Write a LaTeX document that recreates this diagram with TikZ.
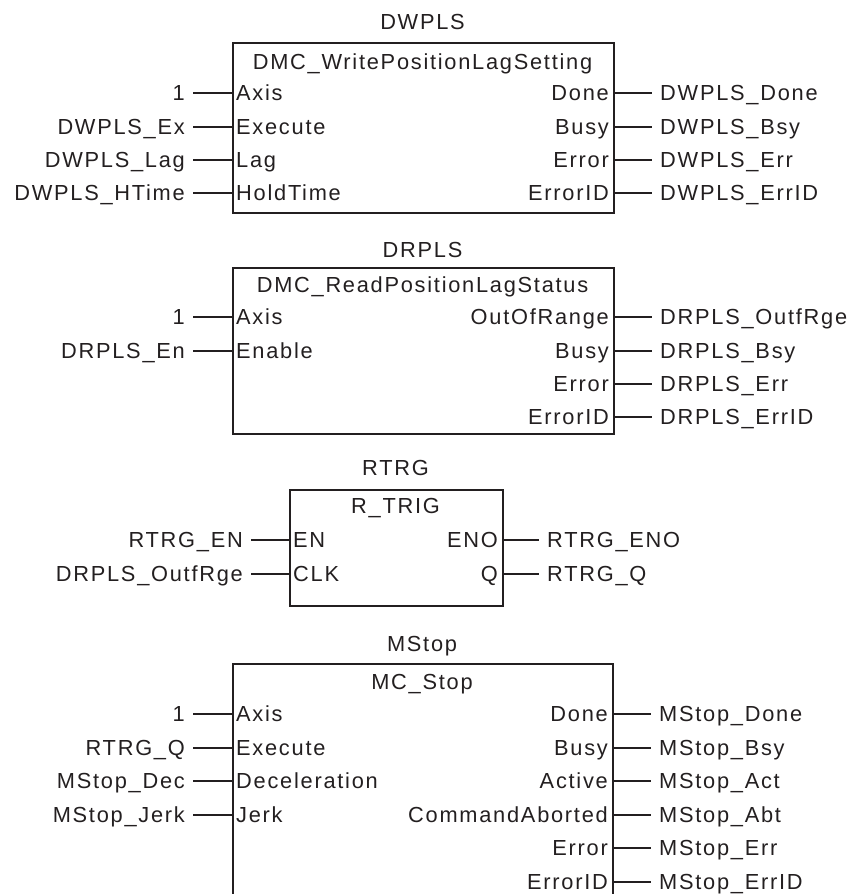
\documentclass[tikz,border=0pt]{standalone}
\usepackage{fontspec}
\setmainfont[LetterSpace=8]{Liberation Sans}
\usetikzlibrary{positioning}

\definecolor{ink}{HTML}{231F20}

\tikzset{
  every node/.style={font=\fontsize{21.8pt}{26pt}\selectfont, text=ink},
  txt/.style={inner ysep=0pt, text height=15.6pt, text depth=0pt},
  fblock/.style={draw=ink, line width=1.8pt, anchor=north west, inner sep=0pt},
  pinin/.style={txt, anchor=west, inner xsep=4pt},
  pinout/.style={txt, anchor=east, inner xsep=4pt},
  varin/.style={txt, anchor=east, inner xsep=8pt},
  varout/.style={txt, anchor=west, inner xsep=8pt},
  wire/.style={draw=ink, line width=1.8pt}
}

\begin{document}
\begin{tikzpicture}[x=1pt, y=-1pt]
\useasboundingbox (0,0) rectangle (853,894);
\clip (0,0) rectangle (853,894);

% DWPLS block
\node[fblock, minimum width=381pt, minimum height=170pt] (dwpls) at (232,42) {};
\node[txt] (dwpls-name) at (422.5,22) {DWPLS};
\node[txt] (dwpls-type) at (422.5,62) {DMC\_WritePositionLagSetting};
\foreach \i/\y/\var/\pin in {1/93/1/Axis, 2/127/DWPLS\_Ex/Execute, 3/160/DWPLS\_Lag/Lag, 4/193/DWPLS\_HTime/HoldTime} {
  \node[pinin] (dwpls-in\i) at (232,\y) {\pin};
  \node[varin] (dwpls-iv\i) at (193,\y) {\var};
  \draw[wire] (dwpls-iv\i.east) -- (dwpls-in\i.west);
}
\foreach \i/\y/\pin/\var in {1/93/Done/DWPLS\_Done, 2/127/Busy/DWPLS\_Bsy, 3/160/Error/DWPLS\_Err, 4/193/ErrorID/DWPLS\_ErrID} {
  \node[pinout] (dwpls-out\i) at (613,\y) {\pin};
  \node[varout] (dwpls-ov\i) at (652,\y) {\var};
  \draw[wire] (dwpls-out\i.east) -- (dwpls-ov\i.west);
}

% DRPLS block
\node[fblock, minimum width=381pt, minimum height=166pt] (drpls) at (232,267) {};
\node[txt] (drpls-name) at (422.5,250) {DRPLS};
\node[txt] (drpls-type) at (422.5,285) {DMC\_ReadPositionLagStatus};
\foreach \i/\y/\var/\pin in {1/317/1/Axis, 2/351/DRPLS\_En/Enable} {
  \node[pinin] (drpls-in\i) at (232,\y) {\pin};
  \node[varin] (drpls-iv\i) at (193,\y) {\var};
  \draw[wire] (drpls-iv\i.east) -- (drpls-in\i.west);
}
\foreach \i/\y/\pin/\var in {1/317/OutOfRange/DRPLS\_OutfRge, 2/351/Busy/DRPLS\_Bsy, 3/384/Error/DRPLS\_Err, 4/417/ErrorID/DRPLS\_ErrID} {
  \node[pinout] (drpls-out\i) at (613,\y) {\pin};
  \node[varout] (drpls-ov\i) at (652,\y) {\var};
  \draw[wire] (drpls-out\i.east) -- (drpls-ov\i.west);
}

% RTRG block
\node[fblock, minimum width=213pt, minimum height=116pt] (rtrg) at (289,489) {};
\node[txt] (rtrg-name) at (395.5,468) {RTRG};
\node[txt] (rtrg-type) at (395.5,506) {R\_TRIG};
\foreach \i/\y/\var/\pin in {1/540/RTRG\_EN/EN, 2/574/DRPLS\_OutfRge/CLK} {
  \node[pinin] (rtrg-in\i) at (289,\y) {\pin};
  \node[varin] (rtrg-iv\i) at (251,\y) {\var};
  \draw[wire] (rtrg-iv\i.east) -- (rtrg-in\i.west);
}
\foreach \i/\y/\pin/\var in {1/540/ENO/RTRG\_ENO, 2/574/Q/RTRG\_Q} {
  \node[pinout] (rtrg-out\i) at (502,\y) {\pin};
  \node[varout] (rtrg-ov\i) at (539,\y) {\var};
  \draw[wire] (rtrg-out\i.east) -- (rtrg-ov\i.west);
}

% MStop block (runs past the bottom edge)
\node[fblock, minimum width=380pt, minimum height=260pt] (mstop) at (232,663) {};
\node[txt] (mstop-name) at (422,644) {MStop};
\node[txt] (mstop-type) at (422,682) {MC\_Stop};
\foreach \i/\y/\var/\pin in {1/714/1/Axis, 2/748/RTRG\_Q/Execute, 3/781/MStop\_Dec/Deceleration, 4/815/MStop\_Jerk/Jerk} {
  \node[pinin] (mstop-in\i) at (232,\y) {\pin};
  \node[varin] (mstop-iv\i) at (193,\y) {\var};
  \draw[wire] (mstop-iv\i.east) -- (mstop-in\i.west);
}
\foreach \i/\y/\pin/\var in {1/714/Done/MStop\_Done, 2/748/Busy/MStop\_Bsy, 3/781/Active/MStop\_Act, 4/815/CommandAborted/MStop\_Abt, 5/848/Error/MStop\_Err, 6/882/ErrorID/MStop\_ErrID} {
  \node[pinout] (mstop-out\i) at (612,\y) {\pin};
  \node[varout] (mstop-ov\i) at (651,\y) {\var};
  \draw[wire] (mstop-out\i.east) -- (mstop-ov\i.west);
}
\end{tikzpicture}
\end{document}
